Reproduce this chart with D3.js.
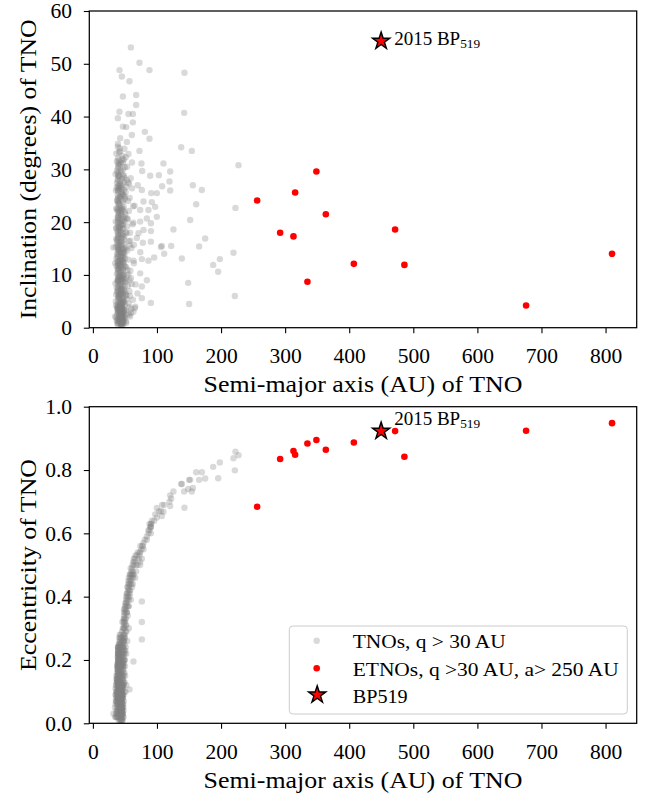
<!DOCTYPE html>
<html><head><meta charset="utf-8">
<script src="https://cdn.jsdelivr.net/npm/d3@7"></script>
<style>
body{margin:0;background:#fff}
svg{display:block}
</style>
</head><body><svg id="c" width="645" height="793"></svg>
<script>
// ---------------- DATA ----------------
// TNOs, q > 30 AU : semi-major axis (AU), inclination (deg), eccentricity
const tnoA = [
 34.5,35.2,35.8,36.1,36.4,36.9,37.2,37.5,37.8,38.1,
 38.4,38.7,39.0,39.2,39.3,39.4,39.4,39.5,39.5,39.6,
 39.3,39.4,39.5,39.6,39.4,39.3,39.5,39.4,39.7,39.4,
 40.0,40.3,40.6,40.9,41.2,41.5,41.8,42.1,42.3,42.5,
 42.7,42.9,43.1,43.3,43.5,43.6,43.8,43.9,44.0,44.1,
 44.2,44.3,44.4,44.5,44.6,44.7,44.8,44.9,45.0,45.1,
 45.2,45.4,45.6,45.8,46.0,46.2,46.4,46.6,46.8,47.0,
 47.3,47.5,47.8,48.0,48.3,48.6,49.0,49.4,49.9,50.4,
 51.0,51.6,52.2,52.9,53.6,54.4,55.2,56.1,57.0,58.2,
 36.0,36.8,37.4,38.0,38.5,38.9,39.4,39.5,39.3,39.6,
 40.2,40.8,41.4,41.9,42.4,42.8,43.2,43.7,44.1,44.6,
 45.0,45.5,46.1,46.7,47.2,47.7,48.2,48.8,49.5,50.2,
 34.9,35.6,36.3,37.0,37.6,38.2,38.8,39.4,39.5,39.4,
 40.5,41.0,41.6,42.0,42.6,43.0,43.4,43.8,44.3,44.8,
 45.3,45.7,46.3,46.9,47.4,47.9,48.5,49.2,50.0,50.8,
 37.1,37.9,38.6,39.4,39.5,39.3,40.1,40.7,41.3,41.7,
 42.2,42.6,43.0,43.4,43.9,44.3,44.7,45.2,45.6,46.0,
 46.5,47.1,47.6,48.1,48.7,49.3,50.0,50.7,51.4,52.1,
 35.4,36.6,37.7,38.3,39.4,39.5,39.4,40.4,41.1,42.0,
 42.9,43.6,44.4,45.0,45.9,46.6,47.5,48.4,49.6,51.2,
 53.0,54.0,55.0,56.0,57.5,59.0,60.5,62.0,63.5,65.0,
 38.6,39.1,39.4,39.8,40.3,40.9,41.5,42.2,42.8,43.4,
 44.0,44.5,45.1,45.7,46.3,46.9,47.5,38.9,39.4,39.6,
 40.1,40.6,41.2,41.8,42.4,43.0,43.6,44.2,44.8,45.4,
 46.0,46.6,47.2,47.8,48.4,39.2,39.5,39.3,39.7,40.0,
 37.3,37.8,38.3,38.8,39.4,39.5,41.0,41.6,42.3,43.1,
 43.7,44.4,45.0,45.5,46.2,46.8,47.4,48.0,48.9,49.8,
 36.2,37.0,37.7,38.5,39.4,39.5,39.3,40.7,41.4,42.1,
 42.7,43.3,43.9,44.5,45.1,45.8,46.4,47.0,47.7,48.5,
 39.4,39.5,39.4,39.6,39.3,40.2,40.9,41.7,42.5,43.2,
 43.8,44.6,45.3,46.1,46.8,47.6,48.3,49.1,50.1,51.3,
 35.9,36.7,37.5,38.2,38.9,39.4,39.5,40.3,41.0,41.8,
 42.4,43.0,43.6,44.2,44.9,45.6,46.3,47.0,47.8,48.7,
 39.3,39.4,39.6,39.5,40.0,40.6,41.3,42.0,42.7,43.5,
 44.3,45.0,45.8,46.5,47.3,48.1,49.0,50.0,51.1,52.5,
 38.0,38.7,39.4,39.5,40.4,41.2,42.0,42.9,43.8,44.7,
 45.5,46.4,47.3,48.2,49.2,53.5,55.8,58.5,61.0,64.0,
 36.5,37.4,38.1,38.8,39.4,39.5,39.3,40.8,41.9,43.0,
 44.1,45.2,46.4,47.6,48.9,50.5,52.0,54.0,56.5,59.5,
 42.5,43.0,43.5,44.0,44.5,45.0,45.5,46.0,43.2,44.2,
 42.8,43.7,44.6,45.3,43.9,44.9,45.8,46.5,42.6,44.0,
 50.5,52.0,53.5,55.0,56.5,58.0,59.5,61.0,62.5,64.0,
 51.5,53.0,54.5,56.0,57.5,60.0,63.0,66.5,70.0,74.0,
 48.5,50.0,51.8,53.8,55.5,57.8,60.2,62.8,65.5,68.5,
 59.3,72.7,88.3,41.5,45.2,57.1,67.5,46.8,67.5,41.5,
 55.5,62.4,39.0,46.8,52.0,62.4,81.1,60.8,42.6,88.3,
 53.0,39.0,72.7,55.5,75.8,103.0,89.4,76.9,108.1,99.8,
 91.0,76.4,79.0,92.0,97.2,86.7,73.8,99.8,84.2,73.8,
 90.5,79.0,90.5,71.2,106.1,90.5,78.0,32.1,95.6,76.4,
 86.7,73.8,84.2,76.4,69.6,76.4,90.5,66.0,58.2,63.3,
 57.1,
 142.9,142.4,137.8,154.4,227.2,120.6,110.1,119.5,120.6,156.0,
 170.0,161.2,222.5,151.8,125.7,175.2,165.8,122.2,107.6,111.2,
 138.8,219.4,198.1,187.7,195.5,148.7,221.5,150.2
];
const tnoI = [
 2.1,8.4,15.3,4.2,22.6,11.7,1.3,27.4,6.8,18.2,
 12.5,3.6,25.1,9.3,16.8,1.8,20.4,7.2,13.9,30.2,
 4.8,11.2,17.6,23.5,28.7,2.9,14.4,19.9,5.6,8.1,
 3.4,10.6,21.8,6.1,15.7,26.3,1.1,12.8,33.4,4.5,
 2.2,18.4,1.6,9.7,3.1,24.9,2.6,14.2,1.9,29.6,
 2.4,5.3,1.2,19.8,3.7,7.6,2.0,11.4,4.1,22.7,
 1.5,3.9,16.2,2.8,8.9,1.0,27.1,4.6,13.6,2.3,
 6.4,20.6,3.2,10.1,31.8,5.8,17.3,1.7,24.4,8.6,
 14.8,3.3,26.7,9.9,19.2,2.7,12.9,22.1,6.9,16.5,
 26.0,13.1,31.5,0.8,20.9,34.8,10.3,26.2,0.6,12.0,
 7.7,30.9,18.9,23.2,8.0,27.8,16.4,6.5,11.9,21.4,
 25.6,9.5,19.4,29.0,4.9,14.0,22.9,2.5,28.4,11.6,
 12.2,20.1,6.3,16.6,24.0,9.0,3.0,32.1,22.3,15.1,
 1.4,11.3,4.3,20.0,1.0,13.3,0.7,3.5,16.9,0.9,
 6.0,32.6,0.5,10.8,25.2,7.3,15.9,33.9,4.4,20.8,
 19.0,4.0,28.1,18.0,3.3,21.2,27.0,14.6,9.1,34.0,
 24.8,2.8,7.1,1.8,5.0,2.9,1.6,14.9,3.0,18.7,
 2.1,23.8,9.4,1.3,26.1,13.8,30.4,6.7,18.1,0.9,
 29.1,1.9,14.0,24.3,6.2,17.0,24.7,5.2,28.9,15.0,
 31.0,10.9,26.5,0.4,22.2,12.4,17.7,27.6,7.8,32.3,
 5.5,11.0,24.0,3.9,15.6,28.3,8.3,19.6,12.7,23.1,
 1.6,6.9,13.4,19.3,2.7,9.8,24.6,4.7,15.9,0.9,
 6.8,2.6,10.5,1.4,17.1,3.6,8.7,22.0,27.9,11.8,
 16.1,28.6,5.7,12.1,20.6,3.8,9.2,1.3,25.3,4.2,
 1.9,15.0,30.0,5.1,12.3,4.0,9.7,26.8,18.6,23.7,
 10.2,22.4,16.3,29.4,12.6,5.8,2.3,17.8,27.2,8.4,
 21.7,7.3,12.9,2.0,24.1,6.6,19.6,14.3,3.4,21.9,
 18.8,7.6,29.8,11.1,0.9,31.1,15.4,21.3,13.0,2.9,
 11.6,26.9,8.3,15.6,2.2,10.0,5.4,22.5,1.8,16.7,
 3.7,8.8,14.8,20.9,25.8,31.7,6.4,1.7,10.4,18.1,
 13.7,3.0,20.3,8.0,1.1,11.9,28.8,4.9,13.1,6.2,
 5.0,16.9,2.4,13.5,8.6,24.0,17.3,3.9,23.6,9.6,
 14.2,1.3,4.6,9.1,17.5,26.0,2.7,31.2,11.2,7.0,
 7.4,22.7,12.3,29.0,19.1,11.7,26.6,6.3,22.2,12.5,
 19.5,7.2,3.3,13.2,9.9,25.0,20.2,2.0,25.7,17.9,
 15.7,4.4,10.9,1.2,9.3,14.7,19.0,29.9,0.6,12.8,
 28.2,21.0,12.7,0.8,9.2,30.5,4.6,10.8,26.4,15.7,
 33.0,26.5,3.5,20.0,30.6,26.0,8.9,33.2,5.9,22.6,
 31.4,14.1,32.0,18.8,3.1,15.2,8.9,20.7,27.3,2.8,
 1.7,3.3,2.1,4.4,1.0,2.6,3.9,1.4,2.9,0.5,
 2.5,1.2,3.0,1.8,3.7,2.3,0.9,4.8,3.8,2.0,
 21.5,6.1,14.6,27.5,2.4,18.0,9.4,31.3,5.3,12.2,
 11.5,28.0,7.9,16.4,24.6,3.6,19.9,8.2,27.0,14.3,
 14.9,24.8,1.2,20.5,10.1,6.0,15.1,23.0,3.7,17.0,
 53.1,50.2,48.8,48.8,47.6,46.7,44.1,43.8,42.2,40.9,
 40.5,40.5,39.7,38.1,38.0,38.9,37.1,36.5,35.9,35.8,
 35.2,34.3,33.5,32.9,31.1,28.9,28.8,29.7,26.8,25.5,
 25.5,26.1,23.9,23.8,22.9,22.3,22.3,21.0,20.7,20.1,
 19.8,18.5,18.3,17.9,15.3,16.3,16.1,15.2,13.3,13.0,
 12.7,10.3,9.0,7.8,6.5,5.6,4.7,4.0,2.1,3.0,
 9.0,
 48.3,40.7,34.2,33.5,30.8,29.6,31.1,27.7,26.0,27.0,
 26.1,23.4,22.7,20.4,18.6,16.9,15.4,15.5,15.5,14.0,
 13.1,14.2,13.0,11.9,10.6,8.5,6.0,4.5
];
const tnoE = [
 0.05,0.09,0.02,0.12,0.07,0.14,0.03,0.10,0.16,0.06,
 0.13,0.08,0.18,0.22,0.11,0.24,0.15,0.19,0.24,0.05,
 0.20,0.23,0.09,0.17,0.22,0.14,0.24,0.04,0.21,0.16,
 0.12,0.03,0.18,0.25,0.08,0.21,0.01,0.14,0.27,0.06,
 0.03,0.11,0.05,0.02,0.07,0.19,0.04,0.09,0.06,0.15,
 0.08,0.03,0.06,0.17,0.04,0.12,0.07,0.02,0.10,0.26,
 0.05,0.09,0.14,0.01,0.18,0.06,0.22,0.11,0.30,0.08,
 0.13,0.24,0.04,0.28,0.19,0.33,0.10,0.35,0.22,0.15,
 0.29,0.38,0.12,0.41,0.26,0.34,0.44,0.30,0.42,0.47,
 0.08,0.15,0.11,0.04,0.19,0.13,0.07,0.12,0.23,0.23,
 0.20,0.07,0.23,0.16,0.09,0.24,0.13,0.27,0.02,0.21,
 0.16,0.29,0.04,0.25,0.18,0.32,0.07,0.23,0.13,0.37,
 0.02,0.06,0.10,0.13,0.02,0.17,0.21,0.18,0.08,0.22,
 0.25,0.19,0.11,0.04,0.09,0.22,0.01,0.10,0.25,0.05,
 0.03,0.12,0.08,0.15,0.28,0.02,0.36,0.20,0.27,0.10,
 0.07,0.18,0.09,0.13,0.06,0.19,0.08,0.13,0.27,0.12,
 0.20,0.06,0.16,0.08,0.03,0.11,0.09,0.21,0.06,0.32,
 0.03,0.19,0.27,0.15,0.31,0.25,0.18,0.38,0.33,0.22,
 0.11,0.04,0.08,0.15,0.10,0.21,0.02,0.22,0.15,0.28,
 0.12,0.18,0.07,0.04,0.10,0.20,0.12,0.26,0.30,0.24,
 0.38,0.43,0.40,0.46,0.45,0.49,0.46,0.50,0.47,0.51,
 0.06,0.14,0.21,0.11,0.18,0.05,0.13,0.24,0.08,0.04,
 0.02,0.07,0.11,0.05,0.14,0.09,0.17,0.12,0.19,0.08,
 0.16,0.22,0.03,0.19,0.10,0.07,0.15,0.05,0.23,0.01,
 0.09,0.24,0.16,0.21,0.12,0.17,0.22,0.10,0.03,0.19,
 0.10,0.05,0.14,0.08,0.20,0.13,0.09,0.26,0.17,0.24,
 0.20,0.10,0.04,0.12,0.19,0.02,0.26,0.09,0.32,0.28,
 0.03,0.09,0.13,0.07,0.18,0.16,0.24,0.15,0.06,0.22,
 0.13,0.25,0.18,0.06,0.08,0.23,0.05,0.14,0.30,0.20,
 0.12,0.02,0.17,0.23,0.09,0.14,0.20,0.04,0.26,0.11,
 0.07,0.13,0.22,0.01,0.11,0.18,0.23,0.35,0.20,0.31,
 0.07,0.12,0.02,0.09,0.15,0.06,0.11,0.17,0.10,0.25,
 0.21,0.05,0.12,0.16,0.03,0.27,0.08,0.20,0.13,0.34,
 0.08,0.15,0.20,0.12,0.05,0.24,0.18,0.11,0.02,0.28,
 0.01,0.15,0.09,0.17,0.06,0.22,0.27,0.32,0.36,0.29,
 0.14,0.03,0.13,0.09,0.01,0.12,0.19,0.10,0.05,0.19,
 0.11,0.03,0.24,0.33,0.16,0.40,0.37,0.44,0.47,0.52,
 0.09,0.14,0.18,0.04,0.07,0.20,0.10,0.08,0.21,0.15,
 0.18,0.24,0.12,0.05,0.26,0.23,0.35,0.39,0.43,0.45,
 0.05,0.03,0.08,0.06,0.02,0.09,0.04,0.07,0.01,0.11,
 0.02,0.06,0.04,0.10,0.09,0.05,0.12,0.03,0.07,0.08,
 0.33,0.39,0.41,0.42,0.44,0.46,0.47,0.49,0.48,0.50,
 0.37,0.35,0.43,0.39,0.47,0.44,0.51,0.53,0.54,0.56,
 0.30,0.36,0.40,0.37,0.45,0.41,0.48,0.46,0.52,0.53,
 0.39,0.53,0.63,0.12,0.18,0.40,0.48,0.22,0.50,0.09,
 0.37,0.44,0.17,0.26,0.31,0.47,0.58,0.43,0.14,0.61,
 0.35,0.10,0.54,0.41,0.55,0.67,0.62,0.56,0.69,0.65,
 0.63,0.52,0.57,0.64,0.66,0.61,0.54,0.68,0.59,0.50,
 0.62,0.55,0.60,0.52,0.67,0.63,0.56,0.03,0.64,0.32,
 0.60,0.51,0.58,0.265,0.50,0.385,0.62,0.46,0.42,0.195,
 0.107,
 0.681,0.732,0.756,0.732,0.847,0.686,0.668,0.70,0.72,0.743,
 0.793,0.793,0.858,0.769,0.732,0.773,0.769,0.71,0.655,0.69,
 0.756,0.837,0.824,0.81,0.774,0.74,0.799,0.769
];
// ETNOs, q > 30 AU, a > 250 AU
const etnoA = [256.3,315.6,348.8,363.5,292.2,313.0,471.6,407.2,486.1,334.8,676.0,810.1];
const etnoI = [24.1,25.6,29.6,21.5,18.0,17.3,18.6,12.1,11.9,8.7,4.2,14.0];
const etnoE = [0.684,0.848,0.895,0.864,0.835,0.860,0.923,0.887,0.842,0.884,0.924,0.948];
// 2015 BP519
const bpA = [449.8];
const bpI = [54.3];
const bpE = [0.923];

const xTicks = [0,100,200,300,400,500,600,700,800];
const incTicks = [0,10,20,30,40,50,60];
const eccTicks = [0.0,0.2,0.4,0.6,0.8,1.0];
const eccTickLabels = ["0.0","0.2","0.4","0.6","0.8","1.0"];
const xLabel = "Semi-major axis (AU) of TNO";
const yLabels = ["Inclination (degrees) of TNO","Eccentricity of TNO"];
const legendLabels = ["TNOs, q > 30 AU","ETNOs, q >30 AU, a> 250 AU","BP519"];

// ---------------- DRAW ----------------
const FONT = '"Liberation Serif","Times New Roman",serif';
const svg = d3.select("#c");
const L = 89.3, R = 636.7;
const x = d3.scaleLinear().domain([-5.6, 848.6]).range([L, R]);
const starPath = d3.symbol().type(d3.symbolStar).size(92)();
const GRAY = "#808080", GA = 0.3, RED = "#ff0000";
const n = Math.min(tnoA.length, tnoI.length, tnoE.length);

const panels = [
  {y0: 11, y1: 327.7, dom: [0, 60], ticks: incTicks, labels: incTicks.map(String),
   ylabel: yLabels[0], ylen: 300, vals: tnoI, evals: etnoI, star: bpI, annDy: 3.6},
  {y0: 406.7, y1: 723.3, dom: [0, 1], ticks: eccTicks, labels: eccTickLabels,
   ylabel: yLabels[1], ylen: 212, vals: tnoE, evals: etnoE, star: bpE, annDy: -5.7}
];

panels.forEach((p, k) => {
  const y = d3.scaleLinear().domain(p.dom).range([p.y1, p.y0]);
  const g = svg.append("g");
  const cid = "clip" + k;
  svg.append("defs").append("clipPath").attr("id", cid)
    .append("rect").attr("x", L).attr("y", p.y0).attr("width", R - L).attr("height", p.y1 - p.y0);
  const pg = g.append("g").attr("clip-path", `url(#${cid})`);
  pg.append("g").selectAll("circle").data(d3.range(n)).join("circle")
    .attr("cx", i => x(tnoA[i])).attr("cy", i => y(p.vals[i])).attr("r", 3.2)
    .attr("fill", GRAY).attr("fill-opacity", GA);
  pg.append("g").selectAll("circle").data(d3.range(etnoA.length)).join("circle")
    .attr("cx", i => x(etnoA[i])).attr("cy", i => y(p.evals[i])).attr("r", 3.3)
    .attr("fill", RED);
  pg.append("g").selectAll("path").data(d3.range(bpA.length)).join("path")
    .attr("d", starPath)
    .attr("transform", i => `translate(${x(bpA[i])},${y(p.star[i])})`)
    .attr("fill", RED).attr("stroke", "#000").attr("stroke-width", 1.4).attr("stroke-linejoin", "miter");

  // annotation
  bpA.forEach((a, i) => {
    const t = g.append("text").attr("font-family", FONT).attr("font-size", 19)
      .attr("x", x(a) + 13).attr("y", y(p.star[i]) + p.annDy);
    t.append("tspan").text("2015 BP");
    t.append("tspan").attr("font-size", 13.3).attr("dy", 3).text("519");
  });

  // axes
  const xa = g.append("g").attr("transform", `translate(0,${p.y1})`)
    .call(d3.axisBottom(x).tickValues(xTicks).tickSize(5.5).tickPadding(15).tickFormat(d3.format("d")));
  xa.select(".domain").remove();
  xa.attr("font-family", FONT).attr("font-size", 21.5);
  xa.selectAll("line").attr("stroke", "#000").attr("stroke-width", 1.1);
  xa.selectAll("text").attr("fill", "#000").attr("font-family", FONT);

  const ya = g.append("g").attr("transform", `translate(${L},0)`)
    .call(d3.axisLeft(y).tickValues(p.ticks).tickSize(5.5).tickPadding(11.8)
      .tickFormat((d, i) => p.labels[i]));
  ya.select(".domain").remove();
  ya.attr("font-family", FONT).attr("font-size", 21.5);
  ya.selectAll("line").attr("stroke", "#000").attr("stroke-width", 1.1);
  ya.selectAll("text").attr("fill", "#000").attr("font-family", FONT);

  g.append("rect").attr("x", L).attr("y", p.y0).attr("width", R - L).attr("height", p.y1 - p.y0)
    .attr("fill", "none").attr("stroke", "#000").attr("stroke-width", 1.25);

  g.append("text").attr("font-family", FONT).attr("font-size", 23.6)
    .attr("x", (L + R) / 2).attr("y", p.y1 + 64.3).attr("text-anchor", "middle")
    .attr("textLength", 319).attr("lengthAdjust", "spacingAndGlyphs")
    .text(xLabel);

  g.append("text").attr("font-family", FONT).attr("font-size", 23.6)
    .attr("transform", `translate(36,${(p.y0 + p.y1) / 2}) rotate(-90)`)
    .attr("text-anchor", "middle")
    .attr("textLength", p.ylen).attr("lengthAdjust", "spacingAndGlyphs")
    .text(p.ylabel);
});

// legend (in lower panel)
const lg = svg.append("g");
lg.append("rect").attr("x", 289.3).attr("y", 626).attr("width", 338).attr("height", 88)
  .attr("rx", 3.5).attr("fill", "#fff").attr("fill-opacity", 0.8)
  .attr("stroke", "#cccccc").attr("stroke-width", 1);
const legY = [640.7, 668.3, 694.8];
const legLen = [153, 266, 55];
lg.append("circle").attr("cx", 316.7).attr("cy", legY[0]).attr("r", 3.2).attr("fill", GRAY).attr("fill-opacity", GA);
lg.append("circle").attr("cx", 316.7).attr("cy", legY[1]).attr("r", 3.3).attr("fill", RED);
lg.append("path").attr("d", starPath).attr("transform", `translate(317.2,${legY[2]})`)
  .attr("fill", RED).attr("stroke", "#000").attr("stroke-width", 1.4);
legendLabels.forEach((s, i) => {
  lg.append("text").attr("font-family", FONT).attr("font-size", 19.5)
    .attr("x", 352.7).attr("y", legY[i] + 7.7)
    .attr("textLength", legLen[i]).attr("lengthAdjust", "spacingAndGlyphs")
    .text(s);
});
</script>
</body></html>
